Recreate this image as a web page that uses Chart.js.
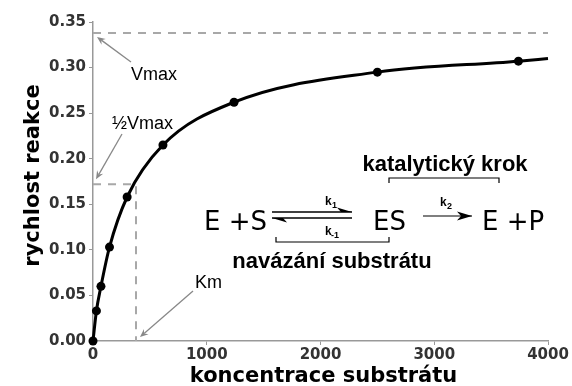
<!DOCTYPE html>
<html>
<head>
<meta charset="utf-8">
<script src="https://cdn.jsdelivr.net/npm/chart.js@4.4.0/dist/chart.umd.min.js"></script>
<style>
  html, body { margin: 0; padding: 0; background: #fff; }
  #wrap { width: 572px; height: 386px; position: relative; }
</style>
</head>
<body>
<div id="wrap"><canvas id="mm"></canvas></div>
<script>
/* ==========================================================================
   Michaelis-Menten saturation curve
   ========================================================================== */

// measured points (substrate concentration vs. reaction rate)
const concentration = [0, 30, 70, 145, 300, 615, 1240, 2500, 3740, 4000];
const rate = [0, 0.033, 0.060, 0.103, 0.158, 0.215, 0.262, 0.295, 0.307, 0.310];
const markerShown = [1, 1, 1, 1, 1, 1, 1, 1, 1, 0];

// reference levels
const vmax = 0.338;
const halfVmax = 0.172;
const km = 378;

const xTicks = [0, 1000, 2000, 3000, 4000];
const yTicks = [0, 0.05, 0.10, 0.15, 0.20, 0.25, 0.30, 0.35];

const GREY = '#999999';
const DASH = '#a8a8a8';

/* ==========================================================================
   Helpers for the annotation layer
   ========================================================================== */

function arrow(ctx, x1, y1, x2, y2, color, width, head) {
    const a = Math.atan2(y2 - y1, x2 - x1);
    ctx.save();
    ctx.strokeStyle = color;
    ctx.fillStyle = color;
    ctx.lineWidth = width;
    ctx.beginPath();
    ctx.moveTo(x1, y1);
    ctx.lineTo(x2 - Math.cos(a) * head * 0.6, y2 - Math.sin(a) * head * 0.6);
    ctx.stroke();
    ctx.beginPath();
    ctx.moveTo(x2, y2);
    ctx.lineTo(x2 - head * Math.cos(a - 0.4), y2 - head * Math.sin(a - 0.4));
    ctx.lineTo(x2 - head * 0.6 * Math.cos(a), y2 - head * 0.6 * Math.sin(a));
    ctx.lineTo(x2 - head * Math.cos(a + 0.4), y2 - head * Math.sin(a + 0.4));
    ctx.closePath();
    ctx.fill();
    ctx.restore();
}

// line with a single-barb head, used for the equilibrium arrows
function halfArrow(ctx, x1, x2, y, up) {
    const dir = x2 > x1 ? 1 : -1;
    ctx.beginPath();
    ctx.moveTo(x1, y);
    ctx.lineTo(x2, y);
    ctx.stroke();
    ctx.beginPath();
    ctx.moveTo(x2, y);
    ctx.lineTo(x2 - dir * 15, y + (up ? -4.5 : 4.5));
    ctx.lineTo(x2 - dir * 11, y);
    ctx.closePath();
    ctx.fill();
}

function bracket(ctx, x1, x2, y, down) {
    const d = down ? 5 : -5;
    ctx.beginPath();
    ctx.moveTo(x1, y + d);
    ctx.lineTo(x1, y);
    ctx.lineTo(x2, y);
    ctx.lineTo(x2, y + d);
    ctx.stroke();
}

const annotations = {
    id: 'annotations',
    afterDraw(chart) {
        const { ctx, chartArea, scales } = chart;
        const x = scales.x, y = scales.y;
        ctx.save();

        // axis titles
        ctx.fillStyle = '#000';
        ctx.font = 'bold 21px "DejaVu Sans"';
        ctx.textAlign = 'center';
        ctx.textBaseline = 'alphabetic';
        ctx.fillText('koncentrace substrátu', (chartArea.left + chartArea.right) / 2 + 3, 382);
        ctx.save();
        ctx.translate(39, (chartArea.top + chartArea.bottom) / 2 - 6);
        ctx.rotate(-Math.PI / 2);
        ctx.fillText('rychlost reakce', 0, 0);
        ctx.restore();

        // Vmax, 1/2 Vmax, Km labels with arrows
        ctx.font = '18px "Liberation Sans"';
        ctx.textAlign = 'left';
        ctx.fillStyle = '#000';
        ctx.fillText('Vmax', 131, 80);
        ctx.fillText('½Vmax', 112, 129);
        ctx.fillText('Km', 195, 288);
        arrow(ctx, 131, 62, x.getPixelForValue(0) + 4, y.getPixelForValue(vmax) + 4, '#888', 1.3, 9);
        arrow(ctx, 122, 134, x.getPixelForValue(0) + 3, y.getPixelForValue(halfVmax) - 5, '#888', 1.3, 9);
        arrow(ctx, 193, 291, x.getPixelForValue(km) + 4, y.getPixelForValue(0) - 4, '#888', 1.3, 9);

        // reaction scheme
        ctx.fillStyle = '#000';
        ctx.strokeStyle = '#000';
        ctx.font = 'bold 22px "Liberation Sans"';
        ctx.textAlign = 'center';
        ctx.fillText('katalytický krok', 445, 171);
        ctx.fillText('navázání substrátu', 332, 268);
        ctx.lineWidth = 1.2;
        bracket(ctx, 389, 499, 178, true);
        bracket(ctx, 276, 389, 242, false);

        ctx.font = '26px "DejaVu Sans"';
        ctx.textAlign = 'left';
        ctx.fillText('E +S', 204, 230);
        ctx.fillText('ES', 373, 230);
        ctx.fillText('E +P', 482, 230);

        ctx.lineWidth = 1.5;
        halfArrow(ctx, 272, 352, 212, true);
        halfArrow(ctx, 352, 272, 218, false);
        ctx.lineWidth = 1.2;
        halfArrow(ctx, 423, 472, 216, true);
        ctx.beginPath();
        ctx.moveTo(472, 216);
        ctx.lineTo(457, 220.5);
        ctx.lineTo(461, 216);
        ctx.closePath();
        ctx.fill();

        ctx.font = 'bold 12px "Liberation Sans"';
        ctx.textAlign = 'left';
        ctx.fillText('k', 325, 205);
        ctx.fillText('k', 325, 235);
        ctx.fillText('k', 440, 206);
        ctx.font = 'bold 9px "Liberation Sans"';
        ctx.fillText('1', 332, 208);
        ctx.fillText('-1', 331, 238);
        ctx.fillText('2', 447, 209);

        ctx.restore();
    }
};

/* ==========================================================================
   Chart
   ========================================================================== */

const ctx = document.getElementById('mm').getContext('2d');

const curve = concentration.map((c, i) => ({ x: c, y: rate[i] }));

new Chart(ctx, {
    type: 'scatter',
    data: {
        datasets: [
            {
                label: 'Vmax',
                data: [{ x: 0, y: vmax }, { x: 4000, y: vmax }],
                showLine: true,
                borderColor: DASH,
                borderWidth: 2,
                borderDash: [8, 7],
                pointRadius: 0
            },
            {
                label: '1/2 Vmax',
                data: [{ x: 0, y: halfVmax }, { x: km, y: halfVmax }, { x: km, y: 0 }],
                showLine: true,
                borderColor: DASH,
                borderWidth: 2,
                borderDash: [8, 7],
                pointRadius: 0
            },
            {
                label: 'rychlost',
                data: curve,
                showLine: true,
                cubicInterpolationMode: 'monotone',
                borderColor: '#000',
                borderWidth: 3,
                backgroundColor: '#000',
                pointRadius: markerShown.map(m => m ? 4.5 : 0),
                pointBorderWidth: 0,
                clip: false
            }
        ]
    },
    options: {
        responsive: true,
        maintainAspectRatio: false,
        animation: false,
        layout: {
            padding: { top: 22, right: 24, left: 0, bottom: 0 }
        },
        plugins: {
            legend: { display: false },
            tooltip: { enabled: false }
        },
        scales: {
            x: {
                type: 'linear',
                min: 0,
                max: 4000,
                afterFit: s => { s.height = 45; },
                afterBuildTicks: s => { s.ticks = xTicks.map(v => ({ value: v })); },
                border: { color: GREY, width: 1.5 },
                grid: { drawOnChartArea: false, color: GREY, tickLength: 4 },
                ticks: {
                    color: '#333',
                    font: { family: 'DejaVu Sans', size: 15, weight: 'bold' },
                    padding: 1,
                    maxRotation: 0,
                    callback: v => String(v)
                }
            },
            y: {
                type: 'linear',
                min: 0,
                max: 0.35,
                afterFit: s => { s.width = 93; },
                afterBuildTicks: s => { s.ticks = yTicks.map(v => ({ value: v })); },
                border: { color: GREY, width: 1.5 },
                grid: { drawOnChartArea: false, color: GREY, tickLength: 4 },
                ticks: {
                    color: '#333',
                    font: { family: 'DejaVu Sans', size: 15, weight: 'bold' },
                    padding: 3,
                    callback: v => v.toFixed(2)
                }
            }
        }
    },
    plugins: [annotations]
});
</script>
</body>
</html>
